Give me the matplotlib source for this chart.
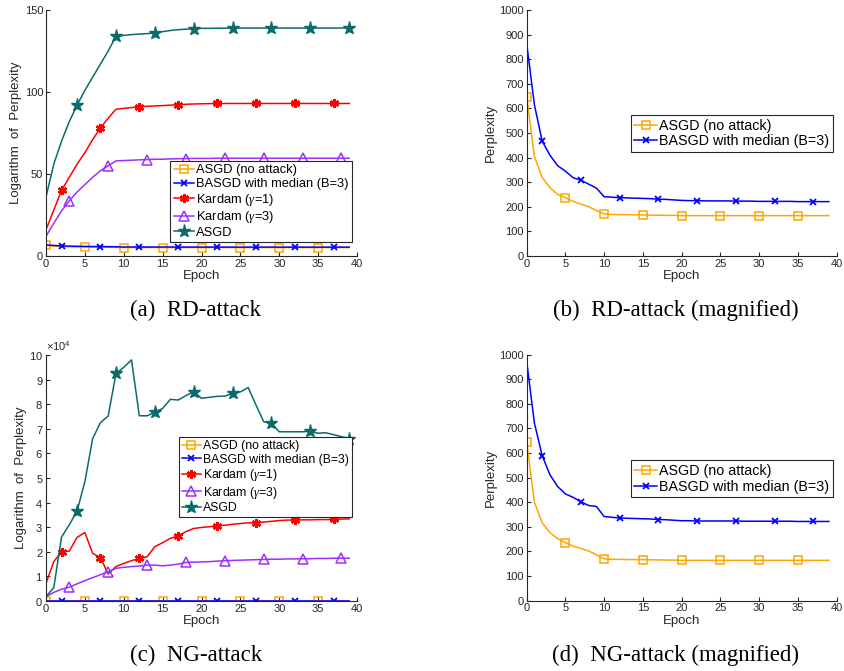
import numpy as np
import matplotlib.pyplot as plt
from matplotlib.ticker import ScalarFormatter, MultipleLocator

plt.rcParams['font.family'] = ['Liberation Sans', 'DejaVu Sans']
plt.rcParams['mathtext.fontset'] = 'custom'
plt.rcParams['mathtext.rm'] = 'Liberation Sans'
plt.rcParams['mathtext.it'] = 'Liberation Serif:italic'

epochs = np.arange(40)

# (a) RD-attack, logarithm of perplexity
rd_noattack_log = [6.47, 6.00, 5.77, 5.63, 5.52, 5.47, 5.40, 5.35, 5.30, 5.22,
                   5.14, 5.13, 5.12, 5.12, 5.12, 5.12, 5.11, 5.11, 5.11, 5.11,
                   5.10, 5.10, 5.10, 5.10, 5.10, 5.10, 5.10, 5.10, 5.10, 5.10,
                   5.10, 5.10, 5.10, 5.10, 5.10, 5.10, 5.10, 5.10, 5.10, 5.10]
rd_basgd_log = [6.76, 6.42, 6.15, 6.02, 5.91, 5.84, 5.76, 5.73, 5.68, 5.62,
                5.48, 5.48, 5.47, 5.46, 5.46, 5.46, 5.45, 5.44, 5.44, 5.43,
                5.42, 5.42, 5.42, 5.41, 5.41, 5.41, 5.41, 5.41, 5.41, 5.41,
                5.40, 5.40, 5.40, 5.40, 5.40, 5.40, 5.40, 5.40, 5.40, 5.40]
rd_kardam1 = [16, 28, 40, 48, 56, 63, 71, 78, 84, 89.5,
              90, 90.5, 91, 91.3, 91.5, 91.7, 92, 92.2, 92.5, 92.7,
              92.8, 92.9, 93, 93, 93, 93, 93, 93, 93, 93,
              93, 93, 93, 93, 93, 93, 93, 93, 93, 93]
rd_kardam3 = [12, 20, 27.5, 33.7, 39, 43.5, 48, 52, 55, 58,
              58.2, 58.4, 58.6, 58.8, 59, 59, 59.2, 59.3, 59.4, 59.5,
              59.5, 59.5, 59.6, 59.6, 59.6, 59.6, 59.6, 59.6, 59.6, 59.6,
              59.6, 59.6, 59.6, 59.6, 59.6, 59.6, 59.6, 59.6, 59.6, 59.6]
rd_asgd = [36, 56, 70, 82, 92, 101, 109, 117, 125, 134,
           134.5, 135, 135.3, 135.6, 136, 136.8, 137.5, 138, 138.3, 138.7,
           138.8, 138.8, 138.9, 138.9, 138.9, 139, 139, 139, 139, 139,
           139, 139, 139, 139, 139, 139, 139, 139, 139, 139]

# (b) RD-attack (magnified), perplexity
rd_noattack = [648, 405, 320, 278, 250, 237, 222, 211, 200, 185,
               171, 169, 168, 168, 167, 167, 166, 166, 165, 165,
               164, 164, 164, 164, 164, 164, 164, 164, 164, 164,
               164, 164, 164, 164, 164, 164, 164, 164, 164, 164]
rd_basgd = [864, 615, 467, 410, 367, 345, 318, 308, 292, 276,
            241, 239, 237, 236, 235, 234, 233, 231, 230, 228,
            226, 225, 225, 224, 224, 224, 224, 223, 223, 223,
            222, 222, 222, 222, 222, 221, 221, 221, 221, 221]

# (c) NG-attack, values in units of 1e4
ng_noattack_log = rd_noattack_log
ng_basgd_log = [6.88, 6.58, 6.38, 6.24, 6.14, 6.07, 6.04, 6.00, 5.96, 5.95,
                5.83, 5.83, 5.82, 5.81, 5.81, 5.81, 5.80, 5.80, 5.80, 5.79,
                5.78, 5.78, 5.78, 5.78, 5.78, 5.78, 5.78, 5.78, 5.78, 5.78,
                5.78, 5.78, 5.78, 5.78, 5.78, 5.77, 5.77, 5.77, 5.77, 5.77]
ng_kardam1 = [0.72, 1.60, 2.00, 2.03, 2.59, 2.78, 1.94, 1.76, 1.10, 1.40,
              1.53, 1.64, 1.73, 1.80, 2.21, 2.37, 2.55, 2.64, 2.82, 2.95,
              2.99, 3.02, 3.05, 3.08, 3.12, 3.15, 3.18, 3.18, 3.21, 3.24,
              3.27, 3.29, 3.29, 3.30, 3.30, 3.31, 3.31, 3.32, 3.33, 3.34]
ng_kardam3 = [0.18, 0.35, 0.48, 0.56, 0.70, 0.83, 0.95, 1.07, 1.19, 1.33,
              1.37, 1.40, 1.42, 1.46, 1.46, 1.43, 1.46, 1.50, 1.57, 1.58,
              1.59, 1.60, 1.62, 1.64, 1.65, 1.66, 1.67, 1.68, 1.69, 1.70,
              1.70, 1.71, 1.71, 1.72, 1.72, 1.73, 1.73, 1.74, 1.74, 1.74]
ng_asgd = [0.18, 0.54, 2.60, 3.10, 3.66, 4.85, 6.60, 7.25, 7.52, 9.25,
           9.50, 9.80, 7.53, 7.53, 7.67, 7.83, 8.20, 8.17, 8.35, 8.51,
           8.24, 8.28, 8.32, 8.33, 8.44, 8.50, 8.68, 7.97, 7.29, 7.22,
           6.88, 6.88, 6.88, 6.88, 6.90, 6.82, 6.84, 6.76, 6.68, 6.60]

# (d) NG-attack (magnified), perplexity
ng_noattack = [645, 400, 317, 277, 252, 236, 222, 212, 202, 186,
               170, 168, 168, 167, 167, 167, 166, 166, 165, 165,
               164, 164, 164, 164, 164, 164, 164, 164, 164, 164,
               164, 164, 164, 164, 164, 164, 164, 164, 164, 164]
ng_basgd = [973, 722, 590, 512, 464, 434, 420, 402, 387, 383,
            342, 339, 336, 335, 334, 333, 332, 330, 329, 327,
            325, 325, 324, 324, 324, 324, 324, 324, 323, 323,
            323, 323, 323, 323, 323, 322, 322, 322, 322, 322]

labels = ['ASGD (no attack)', 'BASGD with median (B=3)',
          r'Kardam ($\gamma$=1)', r'Kardam ($\gamma$=3)', 'ASGD']
colors = ['#FFA500', '#0000FF', '#FF0000', '#9B30FF', '#0B6B6B']
asterisk = (6, 2, 0)
styles = [
    dict(marker='s', markersize=6, markerfacecolor='none', markeredgewidth=1.1, markevery=slice(0, None, 5)),
    dict(marker='x', markersize=4.5, markeredgewidth=1.3, markevery=slice(2, None, 5)),
    dict(marker=asterisk, markersize=6.5, markeredgewidth=1.8, markevery=slice(2, None, 5)),
    dict(marker='^', markersize=7, markerfacecolor='none', markeredgewidth=1.1, markevery=slice(3, None, 5)),
    dict(marker='*', markersize=9.5, markevery=slice(4, None, 5)),
]

axis_color = '#262626'
caption_font = ['Liberation Serif', 'DejaVu Serif']


def style_axes(ax, ymax, ystep):
    ax.set_xlim(0, 40)
    ax.set_ylim(0, ymax)
    ax.xaxis.set_major_locator(MultipleLocator(5))
    ax.yaxis.set_major_locator(MultipleLocator(ystep))
    for side in ['top', 'right']:
        ax.spines[side].set_visible(False)
    for side in ['left', 'bottom']:
        ax.spines[side].set_color(axis_color)
        ax.spines[side].set_linewidth(0.8)
    ax.tick_params(direction='in', length=3, width=0.8, colors=axis_color,
                   labelsize=8, pad=2)
    ax.set_xlabel('Epoch', fontsize=9.5, color=axis_color, labelpad=1)


def add_legend(ax, handles, anchor, size):
    leg = ax.legend(handles=handles, loc='lower right', bbox_to_anchor=anchor,
                    fontsize=size, frameon=True, fancybox=False, framealpha=1,
                    edgecolor='#262626', handlelength=1.6, handletextpad=0.15,
                    borderpad=0.25, labelspacing=0.12, borderaxespad=0,
                    numpoints=1)
    leg.get_frame().set_linewidth(0.8)


fig = plt.figure(figsize=(8.44, 6.71), dpi=100)
ax_a = fig.add_axes([0.0545, 0.6185, 0.3685, 0.3666])
ax_b = fig.add_axes([0.624, 0.6185, 0.3673, 0.3666])
ax_c = fig.add_axes([0.0545, 0.1043, 0.3685, 0.3666])
ax_d = fig.add_axes([0.624, 0.1048, 0.3673, 0.3666])

# (a)
series_a = [rd_noattack_log, rd_basgd_log, rd_kardam1, rd_kardam3, rd_asgd]
handles = []
for vals, lab, col, st in zip(series_a, labels, colors, styles):
    h, = ax_a.plot(epochs, vals, color=col, lw=1.1, label=lab, **st)
    handles.append(h)
style_axes(ax_a, 150, 50)
ax_a.set_ylabel('Logarithm  of  Perplexity', fontsize=9.5, color=axis_color, labelpad=2)
add_legend(ax_a, handles, (0.984, 0.057), 9.3)

# (b)
handles = []
for vals, i in [(rd_noattack, 0), (rd_basgd, 1)]:
    h, = ax_b.plot(epochs, vals, color=colors[i], lw=1.1, label=labels[i], **styles[i])
    handles.append(h)
style_axes(ax_b, 1000, 100)
ax_b.set_ylabel('Perplexity', fontsize=9.5, color=axis_color, labelpad=2)
add_legend(ax_b, handles, (0.988, 0.423), 10.3)

# (c)
series_c = [ng_noattack_log, ng_basgd_log,
            np.array(ng_kardam1) * 1e4, np.array(ng_kardam3) * 1e4, np.array(ng_asgd) * 1e4]
handles = []
for vals, lab, col, st in zip(series_c, labels, colors, styles):
    h, = ax_c.plot(epochs, vals, color=col, lw=1.1, label=lab, **st)
    handles.append(h)
style_axes(ax_c, 1e5, 1e4)
fmt = ScalarFormatter(useMathText=True)
fmt.set_powerlimits((4, 4))
ax_c.yaxis.set_major_formatter(fmt)
ax_c.yaxis.get_offset_text().set_fontsize(8)
ax_c.yaxis.get_offset_text().set_color(axis_color)
ax_c.set_ylabel('Logarithm  of  Perplexity', fontsize=9.5, color=axis_color, labelpad=2)
add_legend(ax_c, handles, (0.984, 0.341), 8.8)

# (d)
handles = []
for vals, i in [(ng_noattack, 0), (ng_basgd, 1)]:
    h, = ax_d.plot(epochs, vals, color=colors[i], lw=1.1, label=labels[i], **styles[i])
    handles.append(h)
style_axes(ax_d, 1000, 100)
ax_d.set_ylabel('Perplexity', fontsize=9.5, color=axis_color, labelpad=2)
add_legend(ax_d, handles, (0.988, 0.42), 10.3)

# captions
cap = 16.5
fig.text(196 / 844, 1 - 310 / 671, '(a)  RD-attack', ha='center', va='center',
         fontsize=cap, family=caption_font)
fig.text(676 / 844, 1 - 310 / 671, '(b)  RD-attack (magnified)', ha='center', va='center',
         fontsize=cap, family=caption_font)
fig.text(196 / 844, 1 - 655 / 671, '(c)  NG-attack', ha='center', va='center',
         fontsize=cap, family=caption_font)
fig.text(676 / 844, 1 - 655 / 671, '(d)  NG-attack (magnified)', ha='center', va='center',
         fontsize=cap, family=caption_font)

fig.savefig('out.png', dpi=100)
